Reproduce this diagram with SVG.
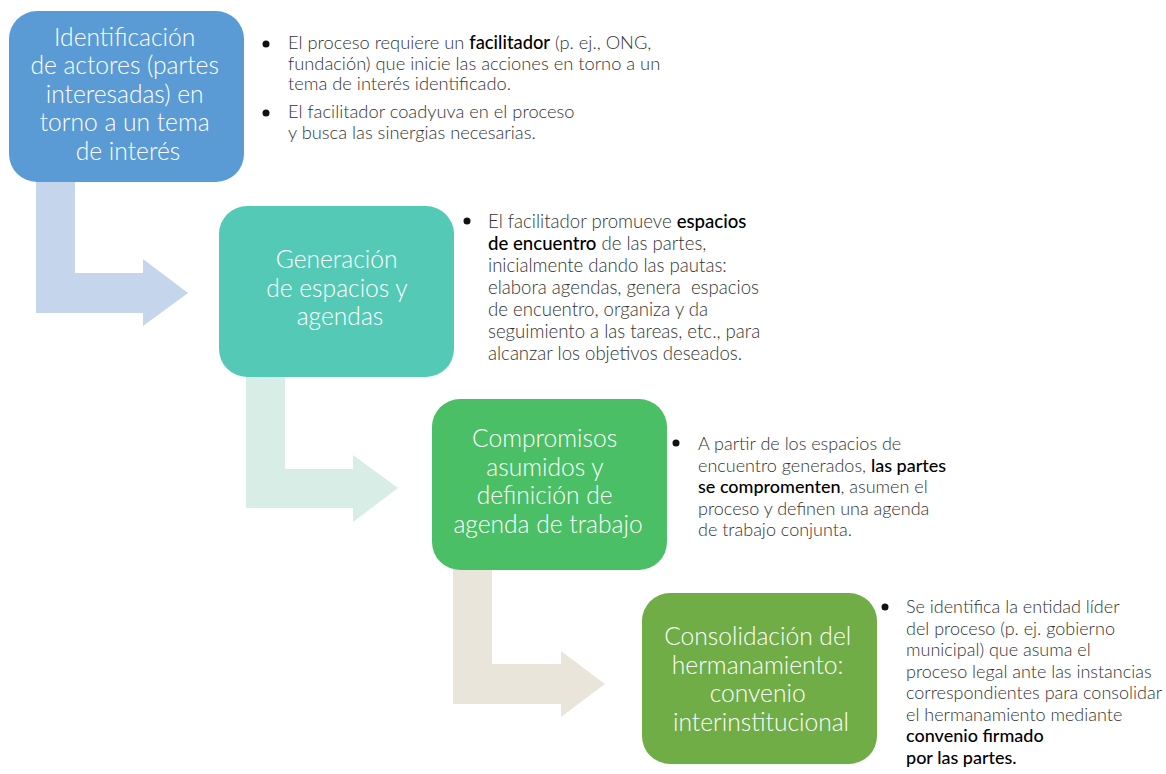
<svg xmlns="http://www.w3.org/2000/svg" width="1166" height="774" viewBox="0 0 1166 774">
  <style>
    .title { font-family: Lato, "Noto Sans", "DejaVu Sans", sans-serif; font-weight: 300; font-size: 24.6px; fill: #ffffff; text-anchor: middle; }
    .body { font-family: Lato, "Noto Sans", "DejaVu Sans", sans-serif; font-weight: 300; fill: #333333; }
    .b1 { font-size: 18.3px; }
    .b2 { font-size: 18.6px; }
    .b3 { font-size: 18px; }
    .strong { font-weight: 500; fill: #000000; }
    .dot { fill: #111111; }
  </style>
  <rect width="1166" height="774" fill="#ffffff"/>
  <g id="connectors">
    <polygon fill="#C5D5EB" points="36,175 75,175 75,273 143,273 143,259 188,293 143,326 143,313 36,313"/>
    <polygon fill="#D8EDE6" points="246,370 285,370 285,469 353,469 353,455 398,488 353,522 353,508 246,508"/>
    <polygon fill="#EAE5DB" points="453,563 492,563 492,664 561,664 561,651 605,684 561,717 561,704 453,704"/>
  </g>
  <g id="node1">
    <rect x="9" y="11" width="235" height="171" rx="28" fill="#5B9BD5"/>
    <text class="title">
      <tspan x="128" y="45.5">Identificación</tspan>
      <tspan x="128" y="74">de actores (partes</tspan>
      <tspan x="128" y="102.5">interesadas) en</tspan>
      <tspan x="128" y="131">torno a un tema</tspan>
      <tspan x="128" y="159.5">de interés</tspan>
    </text>
    <circle class="dot" cx="266" cy="44" r="3.5"/>
    <circle class="dot" cx="266" cy="113" r="3.5"/>
    <text class="body b1">
      <tspan x="288" y="49">El proceso requiere un <tspan class="strong">facilitador</tspan> (p. ej., ONG,</tspan>
      <tspan x="288" y="69.5">fundación) que inicie las acciones en torno a un</tspan>
      <tspan x="288" y="90">tema de interés identificado.</tspan>
      <tspan x="288" y="117.5">El facilitador coadyuva en el proceso</tspan>
      <tspan x="288" y="138.5">y busca las sinergias necesarias.</tspan>
    </text>
  </g>
  <g id="node2">
    <rect x="219" y="206" width="235" height="171" rx="28" fill="#54CAB6"/>
    <text class="title">
      <tspan x="340" y="268">Generación</tspan>
      <tspan x="340" y="297">de espacios y</tspan>
      <tspan x="340" y="325">agendas</tspan>
    </text>
    <circle class="dot" cx="467" cy="221" r="3.5"/>
    <text class="body b2">
      <tspan x="488" y="228">El facilitador promueve <tspan class="strong">espacios</tspan></tspan>
      <tspan x="488" y="250"><tspan class="strong">de encuentro</tspan> de las partes,</tspan>
      <tspan x="488" y="272">inicialmente dando las pautas:</tspan>
      <tspan x="488" y="294" xml:space="preserve">elabora agendas, genera  espacios</tspan>
      <tspan x="488" y="316">de encuentro, organiza y da</tspan>
      <tspan x="488" y="338">seguimiento a las tareas, etc., para</tspan>
      <tspan x="488" y="360">alcanzar los objetivos deseados.</tspan>
    </text>
  </g>
  <g id="node3">
    <rect x="432" y="399" width="235" height="171" rx="28" fill="#4ABF65"/>
    <text class="title">
      <tspan x="548" y="447">Compromisos</tspan>
      <tspan x="548" y="475.5">asumidos y</tspan>
      <tspan x="548" y="504">definición de</tspan>
      <tspan x="548" y="532.5">agenda de trabajo</tspan>
    </text>
    <circle class="dot" cx="676" cy="443" r="3.5"/>
    <text class="body b3">
      <tspan x="698" y="450">A partir de los espacios de</tspan>
      <tspan x="698" y="471.5">encuentro generados, <tspan class="strong">las partes</tspan></tspan>
      <tspan x="698" y="493"><tspan class="strong">se compromenten</tspan>, asumen el</tspan>
      <tspan x="698" y="514.5">proceso y definen una agenda</tspan>
      <tspan x="698" y="536">de trabajo conjunta.</tspan>
    </text>
  </g>
  <g id="node4">
    <rect x="642" y="593" width="235" height="171" rx="28" fill="#70AD47"/>
    <text class="title">
      <tspan x="761" y="645">Consolidación del</tspan>
      <tspan x="761" y="673.5">hermanamiento:</tspan>
      <tspan x="761" y="702">convenio</tspan>
      <tspan x="761" y="730.5">interinstitucional</tspan>
    </text>
    <circle class="dot" cx="885" cy="607" r="3.5"/>
    <text class="body b3">
      <tspan x="906" y="613">Se identifica la entidad líder</tspan>
      <tspan x="906" y="634.5">del proceso (p. ej. gobierno</tspan>
      <tspan x="906" y="656">municipal) que asuma el</tspan>
      <tspan x="906" y="677.5">proceso legal ante las instancias</tspan>
      <tspan x="906" y="699">correspondientes para consolidar</tspan>
      <tspan x="906" y="720.5">el hermanamiento mediante</tspan>
      <tspan x="906" y="742" class="strong">convenio firmado</tspan>
      <tspan x="906" y="763.5" class="strong">por las partes.</tspan>
    </text>
  </g>
</svg>
